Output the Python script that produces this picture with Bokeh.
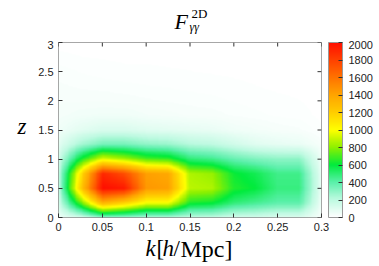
import numpy as np
from bokeh.plotting import figure
from bokeh.models import (Range1d, LinearAxis, FixedTicker, LinearColorMapper,
                          ColorBar, Label)
from bokeh.layouts import column, row
from bokeh.embed import file_html
from bokeh.resources import INLINE

# ---- data: F_2D values on a (k, z) grid ----
k_nodes = [0.0, 0.025, 0.05, 0.075, 0.1, 0.125, 0.15, 0.175, 0.2, 0.225, 0.25, 0.275, 0.3]
z_nodes = [0.0, 0.25, 0.5, 0.75, 1.0, 1.25, 1.5, 1.75, 2.0, 2.25, 2.5, 2.75, 3.0]

F_z000 = [60, 150, 320, 300, 250, 250, 200, 200, 150, 150, 120, 120, 30]
F_z025 = [150, 750, 1350, 1200, 1000, 1000, 650, 620, 500, 450, 400, 400, 60]
F_z050 = [200, 1200, 2000, 1950, 1450, 1420, 880, 860, 650, 600, 480, 480, 80]
F_z075 = [200, 1100, 1900, 1750, 1420, 1380, 860, 820, 620, 560, 460, 460, 80]
F_z100 = [150, 620, 950, 850, 720, 680, 500, 460, 380, 330, 300, 300, 60]
F_z125 = [90, 250, 350, 350, 300, 280, 220, 200, 150, 100, 80, 70, 30]
F_z150 = [50, 90, 120, 120, 100, 90, 80, 70, 50, 40, 30, 25, 10]
F_z175 = [35, 45, 50, 50, 40, 35, 30, 28, 22, 18, 14, 12, 5]
F_z200 = [30, 30, 30, 28, 25, 22, 20, 18, 15, 12, 10, 8, 4]
F_z225 = [25, 22, 20, 18, 16, 15, 13, 12, 10, 8, 6, 5, 3]
F_z250 = [20, 15, 12, 10, 10, 9, 8, 7, 6, 5, 4, 3, 2]
F_z275 = [10, 8, 7, 6, 6, 5, 5, 4, 3, 3, 2, 2, 1]
F_z300 = [5, 4, 3, 3, 3, 3, 2, 2, 2, 1, 1, 1, 0]

x_ticks = [0, 0.05, 0.1, 0.15, 0.2, 0.25, 0.3]
x_tick_labels = ["0", "0.05", "0.1", "0.15", "0.2", "0.25", "0.3"]
y_ticks = [0, 0.5, 1, 1.5, 2, 2.5, 3]
y_tick_labels = ["0", "0.5", "1", "1.5", "2", "2.5", "3"]
cb_ticks = [0, 200, 400, 600, 800, 1000, 1200, 1400, 1600, 1800, 2000]

rows = [F_z000, F_z025, F_z050, F_z075, F_z100, F_z125, F_z150,
        F_z175, F_z200, F_z225, F_z250, F_z275, F_z300]
grid = np.array(rows, dtype=float)

# smooth display (bilinear rendering of the grid, like pm3d interpolate)
kf = np.linspace(k_nodes[0], k_nodes[-1], 301)
zf = np.linspace(z_nodes[0], z_nodes[-1], 301)
tmp = np.array([np.interp(kf, k_nodes, r) for r in grid])
img = np.array([np.interp(zf, z_nodes, tmp[:, j]) for j in range(tmp.shape[1])]).T

# palette (gnuplot-like white-green-yellow-red)
anchors = [(0.0, (255, 255, 255)), (0.1, (190, 250, 225)), (0.2, (90, 240, 170)),
           (0.3, (0, 235, 60)), (0.4, (140, 240, 0)), (0.5, (255, 255, 0)),
           (0.6, (255, 205, 0)), (0.7, (255, 165, 0)), (0.8, (255, 115, 0)),
           (0.9, (255, 65, 0)), (1.0, (255, 15, 0))]
pos = [a[0] for a in anchors]
palette = []
for t in np.linspace(0, 1, 256):
    c = [int(round(np.interp(t, pos, [a[1][i] for a in anchors]))) for i in range(3)]
    palette.append("#%02x%02x%02x" % tuple(c))

mapper = LinearColorMapper(palette=palette, low=0, high=2000)

W = 375
TITLE_H = 40
ZLAB_W = 30
MAIN_H = 197
XLAB_H = 25

# ---- main plot ----
p = figure(width=W - ZLAB_W, height=MAIN_H, output_backend="svg", toolbar_location=None,
           x_range=Range1d(0, 0.3), y_range=Range1d(0, 3),
           min_border_left=28, min_border_right=W - ZLAB_W - 28 - 263,
           min_border_top=2, min_border_bottom=MAIN_H - 2 - 175,
           x_axis_location=None, y_axis_location=None)
p.title.visible = False
p.grid.visible = False
p.outline_line_color = "#8a8a8a"
p.background_fill_color = "white"

p.image(image=[img], x=0, y=0, dw=0.3, dh=3, color_mapper=mapper)

def style_axis(ax, ticks, labels):
    ax.ticker = FixedTicker(ticks=ticks)
    ax.major_label_overrides = {t: l for t, l in zip(ticks, labels)}
    ax.minor_tick_line_color = None
    ax.major_tick_in = 4
    ax.major_tick_out = 0
    ax.major_tick_line_color = "#333333"
    ax.axis_line_color = None
    ax.major_label_text_font = "Liberation Sans"
    ax.major_label_text_font_size = "11px"
    ax.major_label_text_color = "#222222"
    ax.major_label_standoff = 5

xb = LinearAxis(); style_axis(xb, x_ticks, x_tick_labels)
yl = LinearAxis(); style_axis(yl, y_ticks, y_tick_labels)
p.add_layout(xb, "below")
p.add_layout(yl, "left")

# mirror ticks on top and right edges (at the same tick positions)
tick_dx = 4 * 0.3 / 263
tick_dy = 4 * 3 / 175
p.segment(x0=x_ticks, x1=x_ticks, y0=[3] * len(x_ticks), y1=[3 - tick_dy] * len(x_ticks),
          line_color="#333333", line_width=1)
p.segment(x0=[0.3] * len(y_ticks), x1=[0.3 - tick_dx] * len(y_ticks), y0=y_ticks, y1=y_ticks,
          line_color="#333333", line_width=1)

cb = ColorBar(color_mapper=mapper, ticker=FixedTicker(ticks=cb_ticks),
              width=14, height=175, padding=0, margin=0, location=(7, 0),
              bar_line_color="#999999", major_tick_in=4, major_tick_out=0,
              major_tick_line_color="#333333", minor_tick_line_color=None,
              label_standoff=6, major_label_text_font="Liberation Sans",
              major_label_text_font_size="11px", major_label_text_color="#222222",
              background_fill_alpha=0, border_line_color=None)
p.add_layout(cb, "right")

# ---- text panels ----
def blank(w, h):
    f = figure(width=w, height=h, output_backend="svg", toolbar_location=None,
               x_range=Range1d(0, w), y_range=Range1d(0, h), min_border=0,
               x_axis_location=None, y_axis_location=None)
    f.title.visible = False
    f.outline_line_color = None
    f.grid.visible = False
    return f

serif = "Liberation Serif"
def lab(f, x, y, text, size, style="normal"):
    f.add_layout(Label(x=x, y=y, text=text, text_font=serif, text_font_size=size,
                       text_font_style=style, text_baseline="alphabetic",
                       text_color="black"))

tf = blank(W, TITLE_H)
lab(tf, 174, TITLE_H - 21, "F", "22px", "italic")
lab(tf, 191, TITLE_H - 13, "2D", "13px")
lab(tf, 189, TITLE_H - 26, "γγ", "12px", "italic")

zf_ = blank(ZLAB_W, MAIN_H)
lab(zf_, 17, MAIN_H - (135 - TITLE_H), "z", "23px", "italic")

xf = blank(W, XLAB_H)
yb = XLAB_H - (248 - TITLE_H - MAIN_H)
lab(xf, 145, yb, "k", "23px", "italic")
lab(xf, 156, yb, "[", "23px")
lab(xf, 162, yb, "h", "23px", "italic")
lab(xf, 173, yb, "/", "23px")
lab(xf, 180, yb, "Mpc]", "24px")

layout = column(tf, row(zf_, p), xf)
open("out.html", "w").write(file_html(layout, INLINE))
